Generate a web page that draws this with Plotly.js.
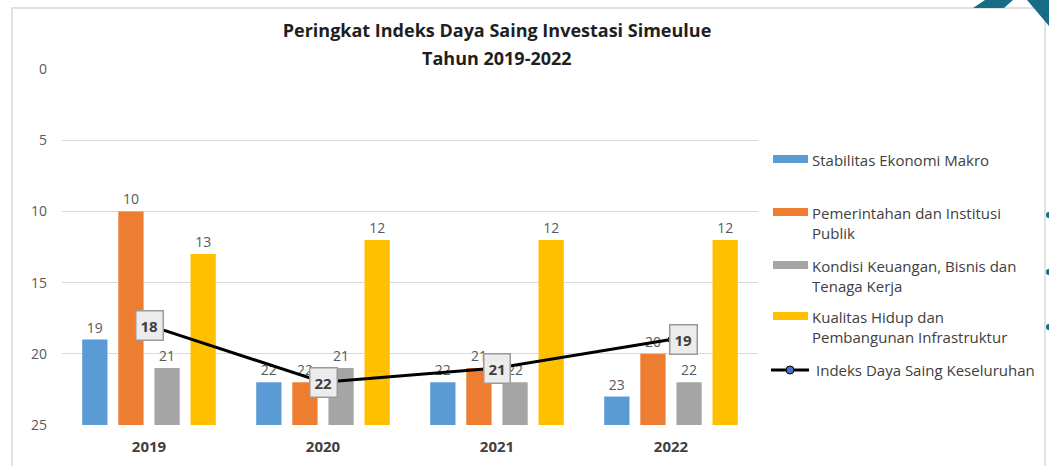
<!DOCTYPE html>
<html>
<head>
<meta charset="utf-8">
<script src="https://cdn.plot.ly/plotly-3.0.1.min.js"></script>
<style>html,body{margin:0;padding:0;background:#fff;}#chart{width:1049px;height:466px;}</style>
</head>
<body>
<div id="chart"></div>
<script>
// ---- data ----
const years = ["2019", "2020", "2021", "2022"];
const seriesNames = [
  "Stabilitas Ekonomi Makro",
  "Pemerintahan dan Institusi<br>Publik",
  "Kondisi Keuangan, Bisnis dan<br>Tenaga Kerja",
  "Kualitas Hidup dan<br>Pembangunan Infrastruktur"
];
const stabilitasEkonomiMakro = [19, 22, 22, 23];
const pemerintahanInstitusiPublik = [10, 22, 21, 20];
const kondisiKeuanganBisnisTenagaKerja = [21, 21, 22, 22];
const kualitasHidupInfrastruktur = [13, 12, 12, 12];
const lineName = "Indeks Daya Saing Keseluruhan";
const indeksKeseluruhan = [18, 22, 21, 19];
const yTicks = [0, 5, 10, 15, 20, 25];
const rankBase = 25;
const titleLine1 = "Peringkat Indeks Daya Saing Investasi Simeulue";
const titleLine2 = "Tahun 2019-2022";

// ---- styling ----
const colors = ["#5B9BD5", "#ED7D31", "#A5A5A5", "#FFC000"];
const FONT = "'Open Sans', Lato, sans-serif";
const W = 1049, H = 466, L = 62, R = 291, T = 69, B = 41;
const pw = W - L - R, ph = H - T - B;
const px = x => (x - L) / pw;
const py = y => (H - B - y) / ph;

const barSeries = [stabilitasEkonomiMakro, pemerintahanInstitusiPublik, kondisiKeuanganBisnisTenagaKerja, kualitasHidupInfrastruktur];

const traces = barSeries.map((vals, i) => ({
  type: "bar",
  name: seriesNames[i].replace("<br>", " "),
  x: years,
  y: vals.map(v => v - rankBase),
  base: rankBase,
  marker: {color: colors[i]},
  text: vals.map(String),
  textposition: "outside",
  textfont: {family: FONT, size: 14, color: "#595959"},
  constraintext: "none",
  cliponaxis: false,
  showlegend: false
}));

traces.push({
  type: "scatter",
  mode: "lines+markers",
  name: lineName,
  x: years,
  y: indeksKeseluruhan,
  line: {color: "#000000", width: 3},
  marker: {color: "#4472C4", size: 6, line: {color: "#000", width: 1}},
  showlegend: false,
  cliponaxis: false
});

// line value boxes (x given as category index)
const annotations = indeksKeseluruhan.map((v, i) => ({
  x: i, y: v, xref: "x", yref: "y",
  text: "<b>" + v + "</b>",
  showarrow: false,
  xshift: i === years.length - 1 ? 12 : 0,
  bgcolor: "#ececec",
  bordercolor: "#9a9a9a",
  borderwidth: 1.5,
  borderpad: 4,
  font: {family: FONT, size: 15, color: "#404040"}
}));

// title second line
annotations.push({
  xref: "paper", yref: "paper", x: px(497), y: py(58),
  text: "<b>" + titleLine2 + "</b>", showarrow: false,
  xanchor: "center", yanchor: "middle",
  font: {family: FONT, size: 18, color: "#1f1f1f"}
});

// custom legend
const shapes = [];
const legendRows = [159, 212, 265, 316];
seriesNames.forEach((n, i) => {
  const yc = legendRows[i];
  shapes.push({type: "rect", xref: "paper", yref: "paper",
    x0: px(773), x1: px(808), y0: py(yc + 4), y1: py(yc - 4),
    fillcolor: colors[i], line: {width: 0}});
  annotations.push({xref: "paper", yref: "paper", x: px(810), y: py(yc - 11),
    text: n, showarrow: false, xanchor: "left", yanchor: "top", align: "left",
    font: {family: FONT, size: 15, color: "#404040"}});
});
shapes.push({type: "line", xref: "paper", yref: "paper",
  x0: px(771), x1: px(809), y0: py(370), y1: py(370), line: {color: "#000", width: 3}});
shapes.push({type: "circle", xref: "paper", yref: "paper",
  x0: px(786), x1: px(794), y0: py(374), y1: py(366),
  fillcolor: "#4472C4", line: {color: "#000", width: 1}});
annotations.push({xref: "paper", yref: "paper", x: px(814), y: py(370),
  text: lineName, showarrow: false, xanchor: "left", yanchor: "middle",
  font: {family: FONT, size: 15, color: "#404040"}});

// frame
shapes.push({type: "rect", xref: "paper", yref: "paper", layer: "below",
  x0: px(12), x1: px(1045), y0: py(475), y1: py(8),
  line: {color: "#d9d9d9", width: 1.5}, fillcolor: "rgba(0,0,0,0)"});
// decorative logo fragment + dots
const teal = "#176d87";
shapes.push({type: "path", xref: "paper", yref: "paper",
  path: `M ${px(973)},${py(8)} L ${px(985)},${py(0)} L ${px(1013)},${py(0)} L ${px(1004)},${py(8)} Z`,
  fillcolor: teal, line: {width: 0}});
shapes.push({type: "path", xref: "paper", yref: "paper",
  path: `M ${px(1027)},${py(0)} L ${px(1049)},${py(0)} L ${px(1049)},${py(26)} Z`,
  fillcolor: teal, line: {width: 0}});
[215, 272, 327].forEach(yy => shapes.push({type: "circle", xref: "paper", yref: "paper",
  x0: px(1046), x1: px(1051), y0: py(yy + 3), y1: py(yy - 3), fillcolor: teal, line: {width: 0}}));

const layout = {
  width: W, height: H,
  margin: {l: L, r: R, t: T, b: B, pad: 0},
  paper_bgcolor: "#ffffff", plot_bgcolor: "#ffffff",
  font: {family: FONT},
  title: {text: "<b>" + titleLine1 + "</b>", xref: "container", x: 497 / W, xanchor: "center",
    y: 1 - 31 / H, yanchor: "middle",
    font: {family: FONT, size: 18, color: "#1f1f1f"}},
  barmode: "group", bargap: 0.17, bargroupgap: 0.3,
  showlegend: false,
  xaxis: {type: "category", range: [-0.5, years.length - 0.5], autorange: false,
    showgrid: false, zeroline: false, showline: false,
    ticks: "", ticklabelstandoff: 11,
    tickfont: {family: FONT, size: 15, color: "#404040", weight: "bold"}},
  yaxis: {range: [25, 0], autorange: false, tickvals: yTicks, showgrid: true, gridcolor: "#d9d9d9", gridwidth: 1,
    zeroline: false, showline: false, ticks: "", ticklabelstandoff: 14,
    tickfont: {family: FONT, size: 14, color: "#595959"}},
  annotations: annotations,
  shapes: shapes
};

Plotly.newPlot("chart", traces, layout, {displayModeBar: false, staticPlot: true});
</script>
</body>
</html>
